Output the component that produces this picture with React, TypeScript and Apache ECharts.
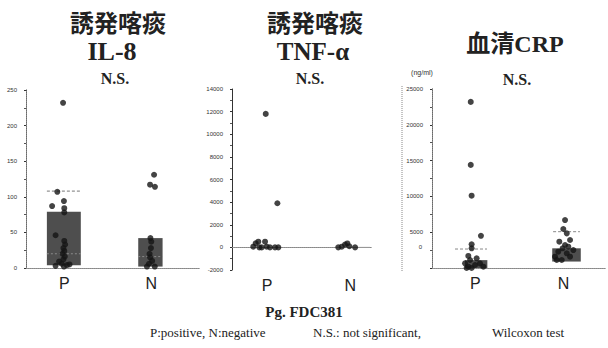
import React, { useEffect, useRef } from 'react';
import * as echarts from 'echarts';

// ---------- data ----------
const groups = ['P', 'N'];
const titlesTop = ['誘発喀痰', '誘発喀痰'];
const titlesSub = ['IL-8', 'TNF-α', '血清CRP'];
const sigLabel = 'N.S.';
const unitLabel = '(ng/ml)';
const footTitle = 'Pg. FDC381';
const footNotes = ['P:positive, N:negative', 'N.S.: not significant,', 'Wilcoxon test'];

// x positions (in % of panel width) of group labels
const il8GroupX = [22, 72];
const tnfGroupX = [25, 84.5];
const crpGroupX = [25, 76];

// y axes
const il8Y = { min: 0, max: 250, interval: 50 };
const tnfY = { min: -2000, max: 14000, interval: 2000 };
const crpY = { min: 0, max: 25000, interval: 5000 };

// IL-8 points [x%, value]
const il8P: number[][] = [
  [21.3, 232], [18, 107], [21.8, 94], [15, 87], [22, 84], [22, 78], [17, 46], [22, 38], [22.5, 33],
  [21.5, 28], [22, 24], [21, 20], [22.3, 16], [21.5, 12], [19, 9], [20.5, 6], [23.5, 4], [17, 3],
  [21.8, 2], [25, 5],
];
const il8N: number[][] = [
  [73.6, 131], [71.3, 117], [74.1, 114], [71.5, 42], [72, 37], [71.8, 28], [71, 20], [71.3, 15],
  [72.5, 10], [70.7, 6], [74, 2], [69.5, 2],
];
// boxes [x1%, x2%, low, high]
const il8Boxes: number[][] = [[12, 31.5, 4, 79], [64.5, 78.5, 2, 42]];
// upper dashed lines [x1%, x2%, value]
const il8Upper: number[][] = [[12, 31.5, 108]];
// medians [x1%, x2%, value]
const il8Median: number[][] = [[12, 31.5, 20], [64.5, 78.5, 16]];

// TNF-α points
const tnfP: number[][] = [
  [24.1, 11800], [32.4, 3900], [15.2, 60], [16.9, 360], [18.8, 500], [19.5, 0], [23.6, 500],
  [24.8, 60], [27.1, 0], [30.7, 0], [33.1, 0], [21.2, 0],
];
const tnfN: number[][] = [
  [75.9, 0], [78.4, 60], [80.7, 250], [82.4, 350], [83.8, 100], [87.9, 0],
];
const tnfMedian: number[][] = [[73.6, 98.6, 0]];

// CRP points
const crpP: number[][] = [
  [22.4, 23200], [22.4, 14400], [22.9, 10100], [28.3, 4500], [22.9, 3300], [22.9, 2750],
  [21, 1680], [19.1, 650], [21, 180], [22.9, 0], [24.9, 420], [27.7, 650], [22, 1120],
  [25.8, 1350], [20, 0], [29.7, 180],
];
const crpN: number[][] = [
  [76.9, 6700], [75.9, 5450], [77.9, 4840], [79.8, 3910], [73.6, 3670], [76.9, 3210],
  [75.5, 2750], [71.1, 1580], [72.1, 1120], [75, 1120], [77.9, 2050], [79.8, 1580],
  [81.7, 2510], [73, 2280], [78.8, 2980],
];
const crpBoxes: number[][] = [[19, 32, 0, 1100], [69.5, 86, 900, 2750]];
const crpUpper: number[][] = [[13.3, 31.8, 2650], [70, 85.5, 5070]];

// ---------- helpers ----------
const DOT = '#151515';
const BOX = '#4e4e4e';
const SERIF = '"Liberation Serif", "Times New Roman", serif';
const SERIF_CJK = '"Liberation Serif", "Noto Sans CJK JP", serif';
const SANS = '"Liberation Sans", Arial, sans-serif';

function boxSeries(gi: number, data: number[][]) {
  return {
    type: 'custom',
    xAxisIndex: gi * 2,
    yAxisIndex: gi * 2,
    z: 1,
    data,
    encode: { x: [0, 1], y: [2, 3] },
    renderItem: (_p: any, api: any) => {
      const a = api.coord([api.value(0), api.value(3)]);
      const b = api.coord([api.value(1), api.value(2)]);
      return {
        type: 'rect',
        shape: { x: a[0], y: a[1], width: b[0] - a[0], height: b[1] - a[1] },
        style: { fill: BOX },
      };
    },
  };
}

function lineSeries(gi: number, data: number[][], stroke: string, dash: number[]) {
  return {
    type: 'custom',
    xAxisIndex: gi * 2,
    yAxisIndex: gi * 2,
    z: 2,
    data,
    encode: { x: [0, 1], y: [2] },
    renderItem: (_p: any, api: any) => {
      const a = api.coord([api.value(0), api.value(2)]);
      const b = api.coord([api.value(1), api.value(2)]);
      return {
        type: 'line',
        shape: { x1: a[0], y1: a[1], x2: b[0], y2: b[1] },
        style: { stroke, lineWidth: 1, lineDash: dash },
      };
    },
  };
}

function dotSeries(gi: number, data: number[][]) {
  return {
    type: 'scatter',
    xAxisIndex: gi * 2,
    yAxisIndex: gi * 2,
    z: 3,
    symbolSize: 6,
    itemStyle: { color: DOT },
    data,
  };
}

function xAxesFor(gi: number, pos: number[]) {
  return [
    {
      type: 'value', gridIndex: gi, min: 0, max: 100, interval: 0.5, position: 'bottom',
      axisLine: { show: true, lineStyle: { color: '#888', type: 'dotted', width: 1 } },
      axisTick: { show: false },
      splitLine: { show: false },
      axisLabel: {
        show: true, margin: 7, fontSize: 16, fontFamily: SANS, color: '#222',
        formatter: (v: number) => (v === pos[0] ? groups[0] : v === pos[1] ? groups[1] : ''),
      },
    },
    {
      type: 'value', gridIndex: gi, min: 0, max: 100, position: 'top',
      axisLine: { show: true, lineStyle: { color: '#888', type: 'dotted', width: 1 } },
      axisTick: { show: false }, axisLabel: { show: false }, splitLine: { show: false },
    },
  ];
}

function yAxesFor(gi: number, cfg: { min: number; max: number; interval: number }, hideZero: boolean, rightShow: boolean) {
  return [
    {
      type: 'value', gridIndex: gi, min: cfg.min, max: cfg.max, interval: cfg.interval, position: 'left',
      axisLine: { show: true, lineStyle: { color: '#333', width: 1 } },
      axisTick: { show: true, length: 2, lineStyle: { color: '#333' } },
      minorTick: { show: true, splitNumber: 2, length: 2, lineStyle: { color: '#555' } },
      splitLine: { show: false },
      axisLabel: {
        margin: 9, fontSize: 6, color: '#333', fontFamily: SANS,
        formatter: (v: number) => (hideZero && v === 0 ? '' : String(v)),
      },
    },
    {
      type: 'value', gridIndex: gi, min: cfg.min, max: cfg.max, position: 'right', show: rightShow,
      axisLine: { show: true, lineStyle: { color: '#888', type: 'dotted', width: 1 } },
      axisTick: { show: false }, axisLabel: { show: false }, splitLine: { show: false },
    },
  ];
}

function text(x: number, y: number, t: string, size: number, family: string, weight: string, align = 'center', fill = '#222') {
  return {
    type: 'text', x, y,
    style: {
      text: t, fontSize: size, fontFamily: family, fontWeight: weight, fill,
      textAlign: align, textVerticalAlign: 'middle',
    },
  };
}

export default function App() {
  const ref = useRef<HTMLDivElement>(null);
  useEffect(() => {
    if (!ref.current) return;
    const chart = echarts.init(ref.current, undefined, { renderer: 'svg' });
    const option: any = {
      animation: false,
      backgroundColor: '#ffffff',
      grid: [
        { left: 26, top: 90, width: 174, height: 178 },
        { left: 232, top: 89, width: 140, height: 181 },
        { left: 432, top: 89, width: 173, height: 179 },
      ],
      xAxis: [...xAxesFor(0, il8GroupX), ...xAxesFor(1, tnfGroupX), ...xAxesFor(2, crpGroupX)],
      yAxis: [...yAxesFor(0, il8Y, false, true), ...yAxesFor(1, tnfY, false, false), ...yAxesFor(2, crpY, true, true)],
      series: [
        boxSeries(0, il8Boxes),
        lineSeries(0, il8Upper, '#777', [3, 2]),
        lineSeries(0, il8Median, '#8a8a8a', [2, 2]),
        dotSeries(0, il8P),
        dotSeries(0, il8N),
        lineSeries(1, tnfMedian, '#999', []),
        dotSeries(1, tnfP),
        dotSeries(1, tnfN),
        boxSeries(2, crpBoxes),
        lineSeries(2, crpUpper, '#888', [3, 2]),
        dotSeries(2, crpP),
        dotSeries(2, crpN),
      ],
      graphic: [
        text(118, 24, titlesTop[0], 24, SERIF_CJK, 'bold'),
        text(112, 51, titlesSub[0], 26, SERIF, 'bold'),
        text(115, 78, sigLabel, 16, SERIF, 'bold'),
        text(315, 24, titlesTop[1], 24, SERIF_CJK, 'bold'),
        text(313, 51, titlesSub[1], 25, SERIF, 'bold'),
        text(310, 78, sigLabel, 16, SERIF, 'bold'),
        text(515, 44, titlesSub[2], 24, SERIF_CJK, 'bold'),
        text(422, 72, unitLabel, 7, SANS, 'normal', 'center', '#333'),
        text(517, 79, sigLabel, 16, SERIF, 'bold'),
        text(422, 247, '0', 6, SANS, 'normal', 'right', '#333'),
        {
          type: 'line', shape: { x1: 402, y1: 86, x2: 402, y2: 272 },
          style: { stroke: '#888', lineWidth: 1, lineDash: [1, 1] },
        },
        text(304, 312, footTitle, 15, SERIF, 'bold'),
        text(150, 332, footNotes[0], 13, SERIF, 'normal', 'left'),
        text(313, 332, footNotes[1], 13, SERIF, 'normal', 'left'),
        text(492, 332, footNotes[2], 13, SERIF, 'normal', 'left'),
      ],
    };
    chart.setOption(option);
    return () => chart.dispose();
  }, []);
  return (
    <div
      ref={ref}
      style={{ position: 'fixed', left: 0, top: 0, width: 608, height: 348, background: '#fff' }}
    />
  );
}
